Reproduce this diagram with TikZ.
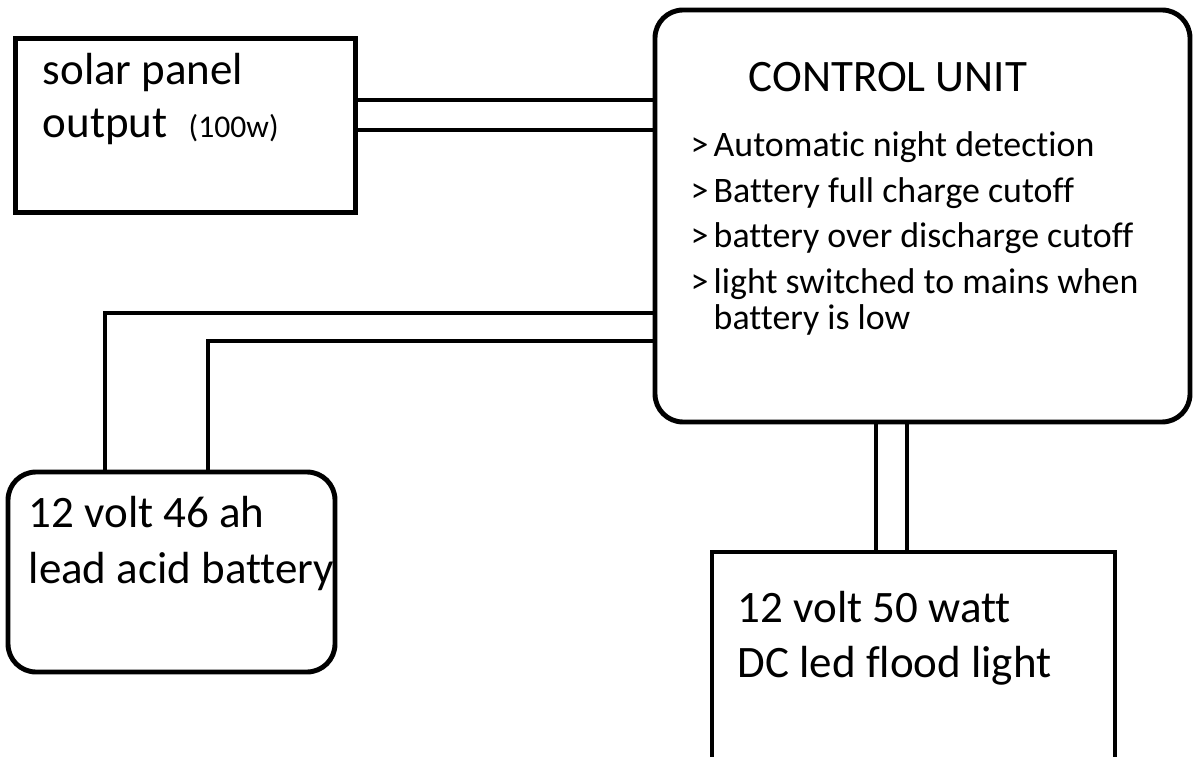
\documentclass[tikz,border=0pt]{standalone}
\usepackage{fontspec}
\setmainfont[Ligatures=NoCommon]{Carlito}
\usetikzlibrary{positioning,calc}

\tikzset{
  box/.style={draw,line width=1.4pt,minimum width=#1,inner sep=0pt},
  rbox/.style={box=#1,rounded corners=0.28cm},
  wire/.style={line width=1.3pt},
  lbl/.style={anchor=base west,inner sep=0pt,font=\fontsize{12.8}{15}\selectfont},
  item/.style={anchor=base west,inner sep=0pt,font=\fontsize{10.2}{12}\selectfont}
}

\begin{document}
\begin{tikzpicture}
\useasboundingbox (0,0) rectangle (11.98,7.56);
\clip (0,0) rectangle (11.98,7.56);
% the four blocks
\node[box=3.40cm,minimum height=1.74cm] (solar) at (1.855,6.305) {};
\node[rbox=5.35cm,minimum height=4.12cm] (ctrl) at (9.225,5.40) {};
\node[rbox=3.27cm,minimum height=2.00cm] (batt) at (1.715,1.84) {};
\node[box=4.03cm,minimum height=2.40cm] (flood) at (9.135,0.84) {};
% solar panel text
\node[lbl] (sp1) at (0.42,6.71) {solar panel};
\node[lbl] (sp2) at (0.42,6.18) {output};
\node[lbl,font=\fontsize{9}{11}\selectfont] (sp3) at (1.88,6.18) {(100w)};
% control unit text
\node[lbl] (cu) at (7.48,6.64) {CONTROL UNIT};
\foreach \t/\y [count=\i] in {Automatic night detection/5.99,
    Battery full charge cutoff/5.53,
    battery over discharge cutoff/5.08,
    light switched to mains when/4.62} {
  \node[item] (mk\i) at (6.90,\y) {>};
  \node[item] (it\i) at (7.13,\y) {\t};
}
\node[item] (it5) at (7.13,4.26) {battery is low};
% battery and lamp text
\node[lbl] (bt1) at (0.28,2.28) {12 volt 46 ah};
\node[lbl] (bt2) at (0.28,1.73) {lead acid battery};
\node[lbl] (fl1) at (7.37,1.34) {12 volt 50 watt};
\node[lbl] (fl2) at (7.37,0.79) {DC led flood light};
% wiring, two conductors each
\draw[wire] (solar.east |- 0,6.56) -- (ctrl.west |- 0,6.56);
\draw[wire] (solar.east |- 0,6.26) -- (ctrl.west |- 0,6.26);
\draw[wire] (batt.north -| 1.05,0) |- (ctrl.west |- 0,4.43);
\draw[wire] (batt.north -| 2.08,0) |- (ctrl.west |- 0,4.15);
\draw[wire] (ctrl.south -| 8.76,0) -- (flood.north -| 8.76,0);
\draw[wire] (ctrl.south -| 9.07,0) -- (flood.north -| 9.07,0);
\end{tikzpicture}
\end{document}
